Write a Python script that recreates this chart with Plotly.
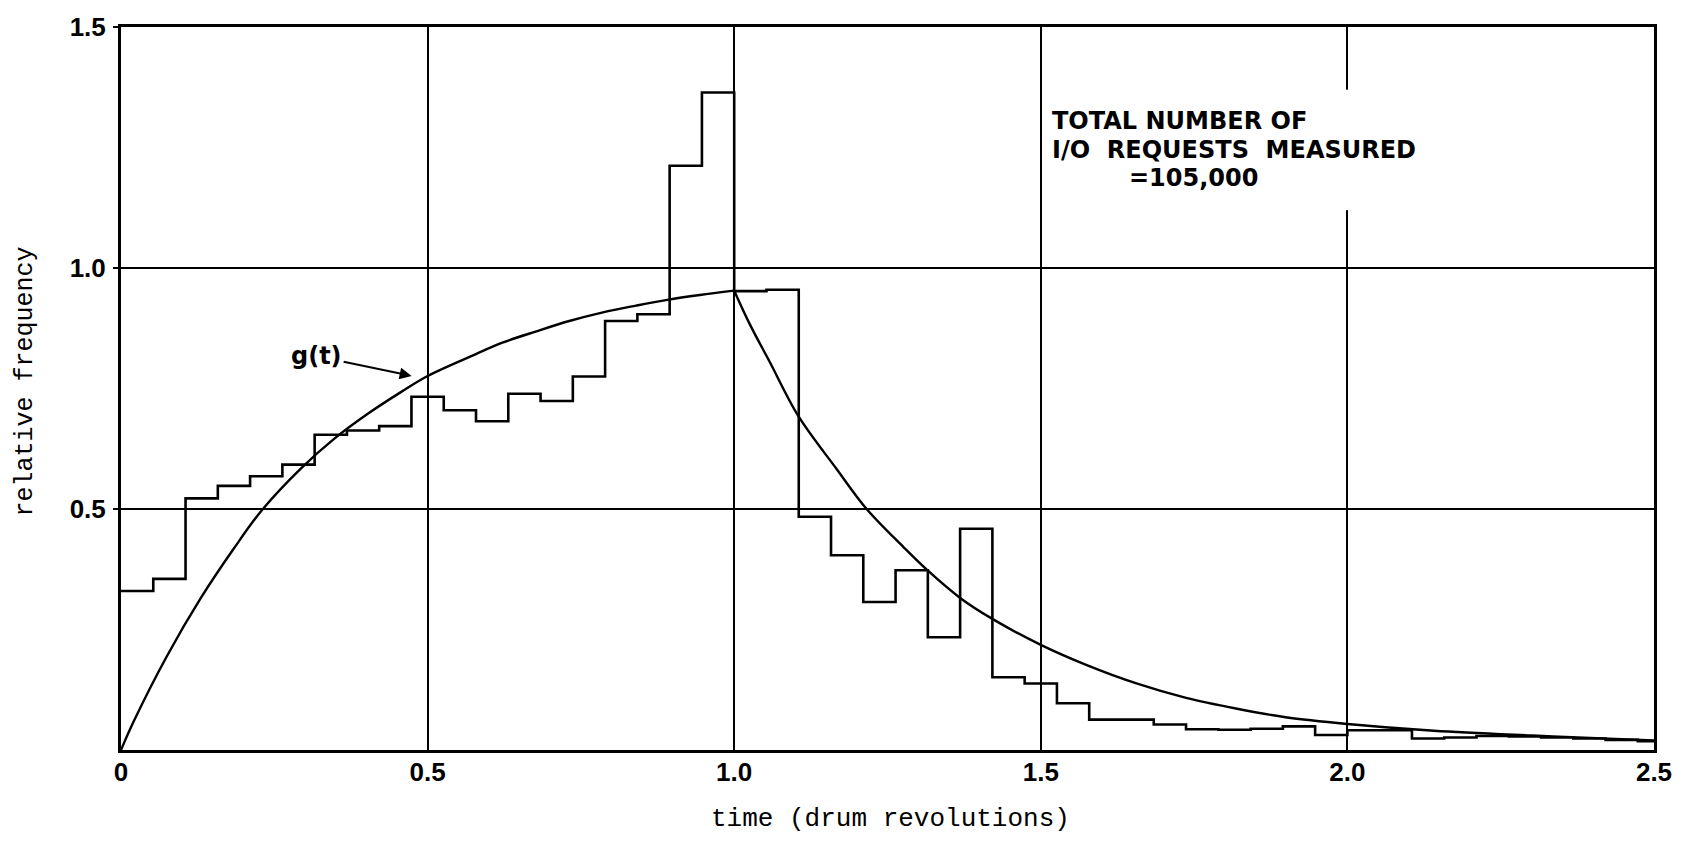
import plotly.graph_objects as go

# ---- data ----
bin_width = 1 / 19  # histogram class width (drum revolutions)
freq = [0.330, 0.355, 0.522, 0.548, 0.568, 0.592, 0.654, 0.663, 0.672, 0.733,
        0.705, 0.682, 0.739, 0.724, 0.775, 0.890, 0.904, 1.212, 1.364, 0.952,
        0.955, 0.484, 0.404, 0.307, 0.373, 0.234, 0.459, 0.151, 0.138, 0.097,
        0.063, 0.063, 0.053, 0.043, 0.042, 0.044, 0.049, 0.031, 0.041, 0.041,
        0.024, 0.026, 0.029, 0.028, 0.026, 0.024, 0.021, 0.018]

g_rise_t = [0.0, 0.021, 0.075, 0.130, 0.184, 0.230, 0.294, 0.348, 0.403, 0.457,
            0.500, 0.578, 0.622, 0.676, 0.731, 0.786, 0.840, 0.891, 0.944, 1.000]
g_rise_v = [0.0, 0.060, 0.195, 0.315, 0.418, 0.498, 0.585, 0.646, 0.698, 0.743,
            0.776, 0.821, 0.845, 0.868, 0.890, 0.908, 0.922, 0.934, 0.944, 0.953]
g_fall_t = [1.000, 1.026, 1.058, 1.105, 1.167, 1.216, 1.276, 1.315, 1.369, 1.421,
            1.500, 1.575, 1.656, 1.737, 1.818, 1.899, 2.000, 2.141, 2.302, 2.437, 2.500]
g_fall_v = [0.953, 0.882, 0.805, 0.692, 0.583, 0.500, 0.421, 0.373, 0.315, 0.272,
            0.218, 0.176, 0.138, 0.108, 0.086, 0.068, 0.054, 0.040, 0.030, 0.023, 0.020]

x_ticks = [0, 0.5, 1.0, 1.5, 2.0, 2.5]
x_labels = ["0", "0.5", "1.0", "1.5", "2.0", "2.5"]
y_ticks = [0.5, 1.0, 1.5]
y_labels = ["0.5", "1.0", "1.5"]

x_max = 2.5
y_max = 1.5

# ---- build figure ----
edges = [min(i * bin_width, x_max) for i in range(len(freq))] + [x_max]
hist_y = freq + [freq[-1]]

fig = go.Figure()
fig.add_trace(go.Scatter(x=edges, y=hist_y, mode="lines", line_shape="hv",
                         line=dict(color="black", width=2.6), showlegend=False))
fig.add_trace(go.Scatter(x=g_rise_t, y=g_rise_v, mode="lines", line_shape="spline",
                         line=dict(color="black", width=2.4, smoothing=1.0),
                         showlegend=False))
fig.add_trace(go.Scatter(x=g_fall_t, y=g_fall_v, mode="lines", line_shape="spline",
                         line=dict(color="black", width=2.4, smoothing=1.0),
                         showlegend=False))

tick_font = dict(family="Liberation Sans, Arial, sans-serif", size=26,
                 color="black", weight="bold")
mono = "Liberation Mono, Courier New, monospace"
letter = "DejaVu Sans, sans-serif"

fig.update_layout(
    width=1684, height=842,
    margin=dict(l=121, r=28, t=19, b=92),
    paper_bgcolor="white", plot_bgcolor="white",
    showlegend=False,
    xaxis=dict(range=[0, x_max], tickvals=x_ticks, ticktext=x_labels,
               showgrid=True, gridcolor="black", gridwidth=2,
               showline=True, linecolor="black", linewidth=3, mirror=True,
               zeroline=False, ticks="", tickfont=tick_font,
               ticklabelstandoff=-3),
    yaxis=dict(range=[0, y_max], tickvals=y_ticks, ticktext=y_labels,
               showgrid=True, gridcolor="black", gridwidth=2,
               showline=True, linecolor="black", linewidth=3, mirror=True,
               zeroline=False, ticks="outside", ticklen=5, tickwidth=2,
               tickcolor="black", tickfont=tick_font, ticklabelstandoff=2),
)

# gap in the 2.0 gridline behind the note
fig.add_shape(type="line", x0=2.0, x1=2.0, y0=1.12, y1=1.37, xref="x", yref="y",
              line=dict(color="white", width=5), layer="above")

ann = []
# axis titles
ann.append(dict(text="time (drum revolutions)", xref="paper", yref="paper",
                x=0.502, y=-0.096, xanchor="center", yanchor="middle",
                showarrow=False, font=dict(family=mono, size=26, color="black")))
ann.append(dict(text="relative frequency", xref="paper", yref="paper",
                x=-0.0625, y=0.51, xanchor="center", yanchor="middle",
                textangle=-90, showarrow=False,
                font=dict(family=mono, size=25, color="black")))
# note
note_font = dict(family=letter, size=24, color="black", weight="bold")
ann.append(dict(text="TOTAL NUMBER OF", xref="x", yref="y", x=1.515, y=1.305,
                xanchor="left", yanchor="middle", showarrow=False, font=note_font))
ann.append(dict(text="I/O  REQUESTS  MEASURED", xref="x", yref="y", x=1.515, y=1.245,
                xanchor="left", yanchor="middle", showarrow=False, font=note_font))
ann.append(dict(text="=105,000", xref="x", yref="y", x=1.64, y=1.186,
                xanchor="left", yanchor="middle", showarrow=False, font=note_font))
# g(t) label with arrow
ann.append(dict(text="g(t)", xref="x", yref="y", x=0.474, y=0.776,
                ax=-95, ay=-20, axref="pixel", ayref="pixel",
                showarrow=True, arrowhead=2, arrowsize=1.2, arrowwidth=2,
                arrowcolor="black", standoff=0,
                font=dict(family=letter, size=24, color="black", weight="bold")))
fig.update_layout(annotations=ann)

fig.write_html("out.html")
